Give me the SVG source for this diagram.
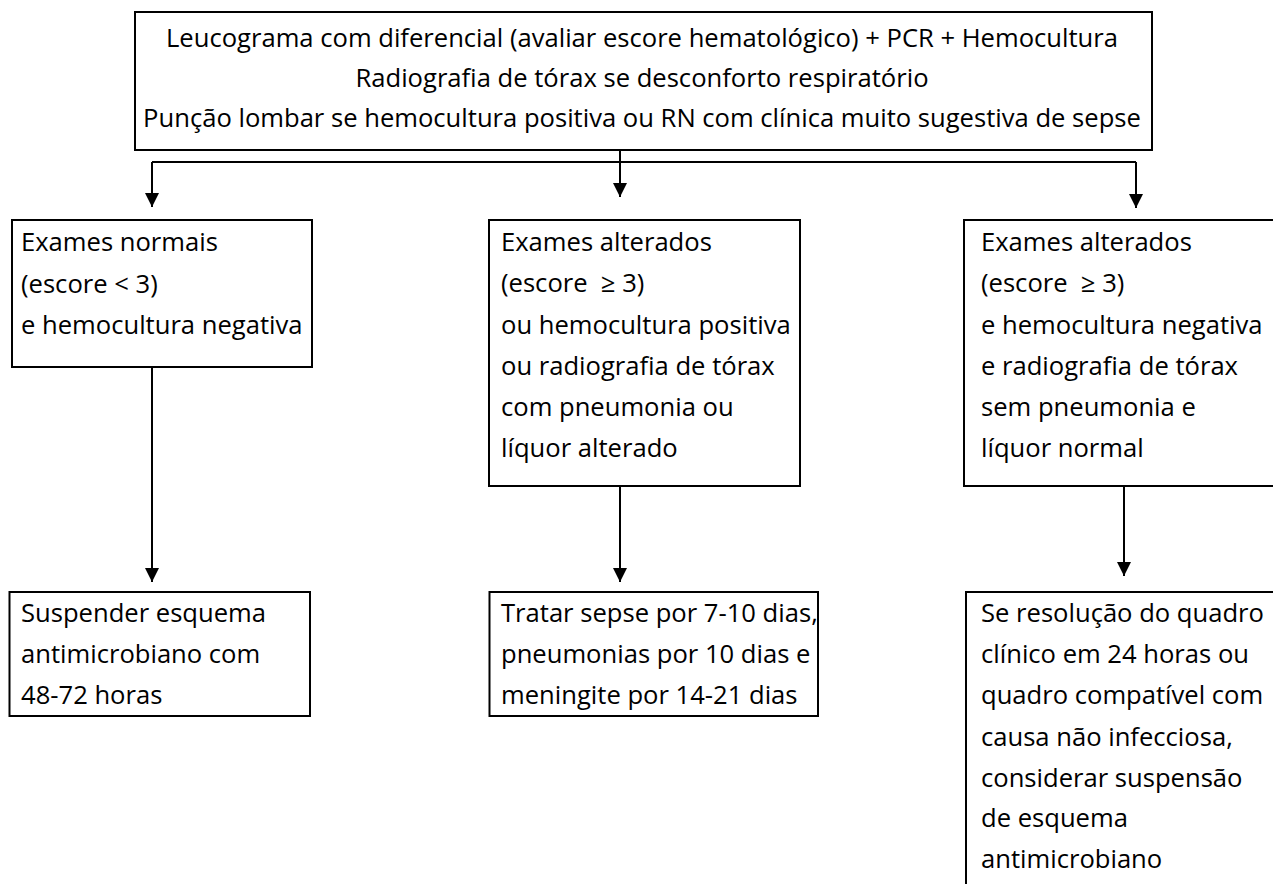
<svg xmlns="http://www.w3.org/2000/svg" width="1273" height="884" viewBox="0 0 1273 884">
<defs>
<style>
.box{fill:#fff;stroke:#000;stroke-width:2}
.t{font-family:"Open Sans","Noto Sans","Liberation Sans",sans-serif;font-size:25.6px;fill:#000;white-space:pre}
.c{text-anchor:middle}
.ln{stroke:#000;stroke-width:2;fill:none}
</style>
<marker id="ah" markerUnits="userSpaceOnUse" markerWidth="16" markerHeight="16" viewBox="0 0 16 16" refX="15" refY="8" orient="auto">
<path d="M1,1 L15,8 L1,15 Z" fill="#000"/>
</marker>
</defs>
<rect width="1273" height="884" fill="#fff"/>
<g id="connectors">
<polyline class="ln" points="152,162 1136,162"/>
<line class="ln" x1="152" y1="162" x2="152" y2="207" marker-end="url(#ah)"/>
<line class="ln" x1="620" y1="150" x2="620" y2="197" marker-end="url(#ah)"/>
<line class="ln" x1="1136" y1="162" x2="1136" y2="208" marker-end="url(#ah)"/>
<line class="ln" x1="152" y1="368" x2="152" y2="582" marker-end="url(#ah)"/>
<line class="ln" x1="620" y1="486" x2="620" y2="582" marker-end="url(#ah)"/>
<line class="ln" x1="1124" y1="486" x2="1124" y2="576" marker-end="url(#ah)"/>
</g>
<g id="top">
<rect class="box" x="135" y="12" width="1017" height="138"/>
<text class="t c" x="642" y="46.5">Leucograma com diferencial (avaliar escore hematológico) + PCR + Hemocultura</text>
<text class="t c" x="642" y="86.5">Radiografia de tórax se desconforto respiratório</text>
<text class="t c" x="642" y="126.5">Punção lombar se hemocultura positiva ou RN com clínica muito sugestiva de sepse</text>
</g>
<g id="normal">
<rect class="box" x="12" y="220" width="300" height="147"/>
<text class="t" x="21" y="251">Exames normais</text>
<text class="t" x="21" y="292.5">(escore &lt; 3)</text>
<text class="t" x="21" y="334">e hemocultura negativa</text>
</g>
<g id="alterado">
<rect class="box" x="489" y="220" width="311" height="266"/>
<text class="t" x="501" y="251">Exames alterados</text>
<text class="t" x="501" y="292">(escore  ≥ 3)</text>
<text class="t" x="501" y="333.5">ou hemocultura positiva</text>
<text class="t" x="501" y="374.5">ou radiografia de tórax</text>
<text class="t" x="501" y="415.5">com pneumonia ou</text>
<text class="t" x="501" y="456.5">líquor alterado</text>
</g>
<g id="alterado-neg">
<rect class="box" x="964" y="220" width="400" height="266"/>
<text class="t" x="981" y="251">Exames alterados</text>
<text class="t" x="981" y="292">(escore  ≥ 3)</text>
<text class="t" x="981" y="333.5">e hemocultura negativa</text>
<text class="t" x="981" y="374.5">e radiografia de tórax</text>
<text class="t" x="981" y="415.5">sem pneumonia e</text>
<text class="t" x="981" y="456.5">líquor normal</text>
</g>
<g id="suspender">
<rect class="box" x="9.5" y="592" width="300.5" height="124"/>
<text class="t" x="21" y="621.5">Suspender esquema</text>
<text class="t" x="21" y="662.5">antimicrobiano com</text>
<text class="t" x="21" y="703.5">48-72 horas</text>
</g>
<g id="tratar">
<rect class="box" x="489.5" y="592" width="328.5" height="124"/>
<text class="t" x="501" y="621.5">Tratar sepse por 7-10 dias,</text>
<text class="t" x="501" y="662.5">pneumonias por 10 dias e</text>
<text class="t" x="501" y="703.5">meningite por 14-21 dias</text>
</g>
<g id="considerar">
<rect class="box" x="966" y="592" width="400" height="400"/>
<text class="t" x="981" y="621.5">Se resolução do quadro</text>
<text class="t" x="981" y="662.5">clínico em 24 horas ou</text>
<text class="t" x="981" y="704">quadro compatível com</text>
<text class="t" x="981" y="745.5">causa não infecciosa,</text>
<text class="t" x="981" y="786.5">considerar suspensão</text>
<text class="t" x="981" y="827">de esquema</text>
<text class="t" x="981" y="868">antimicrobiano</text>
</g>
</svg>
